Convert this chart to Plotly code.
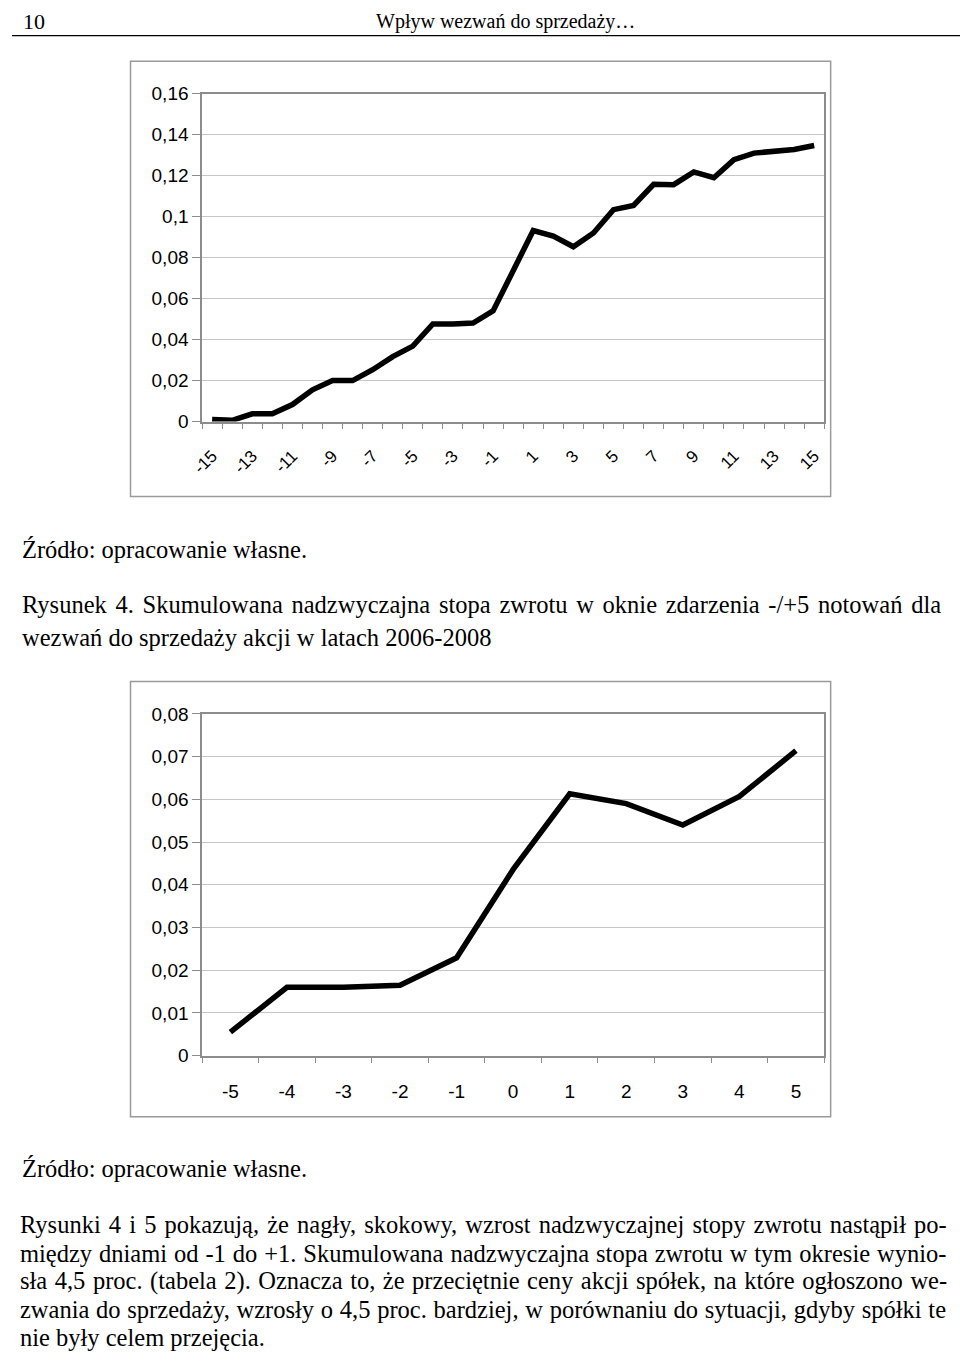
import plotly.graph_objects as go

W, H = 960, 1362

# ---- data ----
days1 = list(range(-15, 16))
car1 = [0.0010, 0.0006, 0.0038, 0.0038, 0.0083, 0.0155, 0.0200, 0.0200, 0.0253, 0.0317,
        0.0368, 0.0476, 0.0476, 0.0481, 0.0540, 0.0740, 0.0932, 0.0905, 0.0853, 0.0920,
        0.1034, 0.1055, 0.1158, 0.1156, 0.1218, 0.1190, 0.1278, 0.1310, 0.1320, 0.1328, 0.1347]
label_days1 = list(range(-15, 16, 2))

days2 = list(range(-5, 6))
car2 = [0.0055, 0.0160, 0.0160, 0.0165, 0.0229, 0.0436, 0.0613, 0.0590, 0.0540, 0.0607, 0.0714]

header_left = "10"
header_center = "Wpływ wezwań do sprzedaży…"
source = "Źródło: opracowanie własne."
caption_lines = ["Rysunek 4. Skumulowana nadzwyczajna stopa zwrotu w oknie zdarzenia -/+5 notowań dla",
                 "wezwań do sprzedaży akcji w latach 2006-2008"]
para_lines = ["Rysunki 4 i 5 pokazują, że nagły, skokowy, wzrost nadzwyczajnej stopy zwrotu nastąpił po-",
              "między dniami od -1 do +1. Skumulowana nadzwyczajna stopa zwrotu w tym okresie wynio-",
              "sła 4,5 proc. (tabela 2). Oznacza to, że przeciętnie ceny akcji spółek, na które ogłoszono we-",
              "zwania do sprzedaży, wzrosły o 4,5 proc. bardziej, w porównaniu do sytuacji, gdyby spółki te",
              "nie były celem przejęcia."]
# extra word spacing (px) to imitate the justified lines
caption_ws = [2.6, 0]
para_ws = [2.0, 0.8, 1.4, 0.6, 0]

def px(x):
    return x / W

def py(y):
    return 1 - y / H

SANS = "Liberation Sans, Arial, sans-serif"
SERIF = "Liberation Serif, Times New Roman, serif"
GRID = "#c6c6c6"
AX = "#8c8c8c"

fig = go.Figure()
fig.add_trace(go.Scatter(x=days1, y=car1, mode="lines", xaxis="x", yaxis="y",
                         line=dict(color="black", width=5.5), showlegend=False, hoverinfo="skip"))
fig.add_trace(go.Scatter(x=days2, y=car2, mode="lines", xaxis="x2", yaxis="y2",
                         line=dict(color="black", width=5.5), showlegend=False, hoverinfo="skip"))

def xaxis_cfg(days, labels, anchor, angle, size, pad):
    return dict(
        domain=[px(192.5), px(822.5)], anchor=anchor,
        range=[days[0] - 0.5, days[-1] + 0.5],
        tickmode="array", tickvals=labels, ticktext=[str(v) for v in labels],
        tickangle=angle,
        # invisible major ticks only push the labels down; visible ticks sit between categories
        ticks="outside", ticklen=pad, tickcolor="rgba(0,0,0,0)",
        showgrid=False, zeroline=False,
        showline=True, linecolor=AX, linewidth=1.5, mirror=True,
        tickfont=dict(family=SANS, size=size, color="black"),
        minor=dict(tickmode="array", tickvals=[d - 0.5 for d in days] + [days[-1] + 0.5],
                   ticks="outside", ticklen=6, tickcolor=AX, tickwidth=1, showgrid=False),
        fixedrange=True,
    )

def yaxis_cfg(top, bottom, rng, dt, anchor):
    return dict(
        domain=[py(bottom), py(top)], anchor=anchor, range=rng, dtick=dt, tick0=0,
        ticks="outside", ticklen=8, tickcolor=AX, tickwidth=1,
        showgrid=True, gridcolor=GRID, gridwidth=1, zeroline=False,
        showline=True, linecolor=AX, linewidth=1.5, mirror=True,
        tickfont=dict(family=SANS, size=19, color="black"),
        fixedrange=True,
    )

fig.update_layout(
    width=W, height=H, autosize=False,
    margin=dict(l=0, r=0, t=0, b=0),
    paper_bgcolor="white", plot_bgcolor="white",
    separators=", ",
    xaxis=xaxis_cfg(days1, label_days1, "y", -45, 17, 16),
    yaxis=yaxis_cfg(85, 418, [0, 0.16], 0.02, "x"),
    xaxis2=xaxis_cfg(days2, days2, "y2", 0, 19, 18),
    yaxis2=yaxis_cfg(715, 1062, [0, 0.08], 0.01, "x2"),
)

shapes = [
    dict(type="line", xref="paper", yref="paper", x0=0, x1=1, y0=py(26), y1=py(26),
         line=dict(color="black", width=1.2)),
    dict(type="rect", xref="paper", yref="paper", x0=px(120), x1=px(829), y0=py(494), y1=py(52),
         line=dict(color="#9a9a9a", width=1.5)),
    dict(type="rect", xref="paper", yref="paper", x0=px(120), x1=px(829), y0=py(1124), y1=py(682),
         line=dict(color="#9a9a9a", width=1.5)),
]
fig.update_layout(shapes=shapes)

ann = []
def text(t, x, y, size, anchor="left", family=SERIF, ws=0):
    if ws:
        t = '<span style="word-spacing:%.1fpx">%s</span>' % (ws, t)
    ann.append(dict(text=t, x=px(x), y=py(y), xref="paper", yref="paper", xanchor=anchor,
                    yanchor="middle", showarrow=False, font=dict(family=family, size=size, color="black")))

text(header_left, 9, 12, 22)
text(header_center, 500, 12, 20, anchor="center")
text(source, 8, 548, 24.5)
for i, ln in enumerate(caption_lines):
    text(ln, 8, 604 + 33 * i, 24.5, ws=caption_ws[i])
text(source, 8, 1177, 24.5)
for i, ln in enumerate(para_lines):
    text(ln, 6, 1234 + 28.5 * i, 24.5, ws=para_ws[i])
fig.update_layout(annotations=ann)

fig.write_html("out.html", post_script=(
    "var s=document.createElement('style');"
    "s.innerHTML='html,body{margin:0 !important;padding:0 !important;overflow:hidden !important}';"
    "document.head.appendChild(s);"))
